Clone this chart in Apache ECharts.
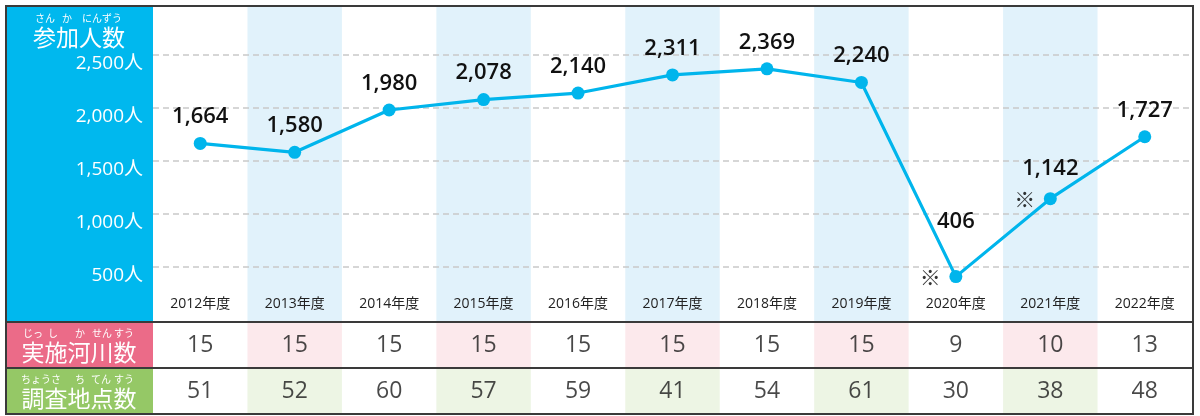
<!DOCTYPE html>
<html>
<head>
<meta charset="utf-8">
<script src="https://cdn.jsdelivr.net/npm/echarts@6/dist/echarts.min.js"></script>
<style>
  html, body { margin: 0; padding: 0; background: #fff; }
  #chart { width: 1200px; height: 416px; }
</style>
</head>
<body>
<div id="chart"></div>
<script>
// 年度別の参加人数・実施河川数・調査地点数
const years = ['2012年度', '2013年度', '2014年度', '2015年度', '2016年度', '2017年度',
               '2018年度', '2019年度', '2020年度', '2021年度', '2022年度'];
const participants = [1664, 1580, 1980, 2078, 2140, 2311, 2369, 2240, 406, 1142, 1727];
const rivers = [15, 15, 15, 15, 15, 15, 15, 15, 9, 10, 13];
const sites = [51, 52, 60, 57, 59, 41, 54, 61, 30, 38, 48];
const notes = ['', '', '', '', '', '', '', '', '※', '※', ''];

const FONT = '"Open Sans", "Noto Sans CJK JP", sans-serif';
const JP = '"Noto Sans CJK JP", sans-serif';
const C = {
  blue: '#00b8ee', line: '#00b5ec', band: '#e1f2fb',
  pink: '#eb6b88', pinkCell: '#fce9ec',
  green: '#95c866', greenCell: '#edf5e4',
  grid: '#c9c9c9', border: '#3a3a3a', text: '#1a1a1a'
};

// label spacing tweaks for crowded points
const labelDistance = { '2020年度': 37, '2021年度': 12 };

// alternating column shading
const altCols = years.map((_, i) => (i % 2 ? 1 : 0));

const chart = echarts.init(document.getElementById('chart'), null, { renderer: 'canvas' });

const hiddenCat = (gridIndex) => ({
  type: 'category', gridIndex, data: years,
  axisLine: { show: false }, axisTick: { show: false }, axisLabel: { show: false },
  splitLine: { show: false }
});
const hiddenVal = (gridIndex) => ({
  type: 'value', gridIndex, min: 0, max: 1,
  axisLine: { show: false }, axisTick: { show: false }, axisLabel: { show: false },
  splitLine: { show: false }
});

const tableText = (gridIndex, values) => ({
  type: 'scatter', xAxisIndex: gridIndex, yAxisIndex: gridIndex,
  symbolSize: 0, silent: true, z: 6,
  encode: { x: 0, y: 1 },
  data: values.map((v, i) => [years[i], 0.5, v]),
  label: {
    show: true, position: 'inside',
    formatter: p => String(p.value[2]),
    fontFamily: FONT, fontSize: 23, color: C.text
  }
});

const shade = (gridIndex, color) => ({
  type: 'bar', xAxisIndex: gridIndex, yAxisIndex: gridIndex,
  barWidth: '100%', silent: true, z: 1,
  itemStyle: { color },
  data: altCols
});

// header captions with furigana
function header(word, ruby, cy) {
  const items = [{
    type: 'text', x: 79, y: cy, z: 2,
    style: { text: word, fill: '#fff', font: '23px ' + JP, textAlign: 'center', textVerticalAlign: 'middle' }
  }];
  ruby.forEach(([t, x]) => items.push({
    type: 'text', x, y: cy - 19, z: 2,
    style: { text: t, fill: '#fff', font: '10px ' + JP, textAlign: 'center', textVerticalAlign: 'middle' }
  }));
  return items;
}

const option = {
  animation: false,
  grid: [
    { left: 153, right: 8, top: 7, bottom: 95 },      // column bands
    { left: 153, right: 8, top: 2, bottom: 96.4 },    // line chart
    { left: 153, right: 8, top: 323, height: 44 },    // 実施河川数
    { left: 153, right: 8, top: 369, height: 44 }     // 調査地点数
  ],
  xAxis: [
    hiddenCat(0),
    {
      type: 'category', gridIndex: 1, data: years, z: 3,
      axisLine: { show: false }, axisTick: { show: false },
      axisLabel: { inside: true, margin: 9, fontFamily: FONT, fontSize: 14, color: '#222' }
    },
    hiddenCat(2),
    hiddenCat(3)
  ],
  yAxis: [
    hiddenVal(0),
    {
      type: 'value', gridIndex: 1, min: 0, max: 3000, interval: 500, z: 5,
      axisLine: { show: false }, axisTick: { show: false },
      axisLabel: {
        showMinLabel: false, showMaxLabel: false, margin: 10,
        formatter: v => v.toLocaleString('en-US') + '人',
        fontFamily: FONT, fontSize: 19, color: '#fff',
        verticalAlign: 'top', padding: [-1, 0, 0, 0]
      },
      splitLine: {
        show: true, showMinLine: false, showMaxLine: false,
        lineStyle: { color: C.grid, type: [6, 4], width: 1.5 }
      }
    },
    hiddenVal(2),
    hiddenVal(3)
  ],
  graphic: [
    { type: 'rect', z: 0, shape: { x: 6, y: 6, width: 147, height: 316 }, style: { fill: C.blue } },
    { type: 'rect', z: 0, shape: { x: 6, y: 322, width: 147, height: 46 }, style: { fill: C.pink } },
    { type: 'rect', z: 0, shape: { x: 6, y: 368, width: 147, height: 46 }, style: { fill: C.green } },
    ...header('参加人数', [['さん', 45], ['か', 67], ['にんずう', 102]], 37),
    ...header('実施河川数', [['じっ', 33], ['し', 53], ['か', 80], ['せん', 102], ['すう', 124]], 352),
    ...header('調査地点数', [['ちょうさ', 41], ['ち', 80], ['てん', 101], ['すう', 124]], 398),
    { type: 'line', z: 20, shape: { x1: 6, y1: 322, x2: 1193, y2: 322 }, style: { stroke: C.border, lineWidth: 2 } },
    { type: 'line', z: 20, shape: { x1: 6, y1: 368, x2: 1193, y2: 368 }, style: { stroke: C.border, lineWidth: 2 } },
    { type: 'rect', z: 20, shape: { x: 6, y: 6, width: 1187, height: 408 }, style: { fill: 'none', stroke: C.border, lineWidth: 2 } }
  ],
  series: [
    {
      type: 'bar', xAxisIndex: 0, yAxisIndex: 0, barWidth: '100%', silent: true, z: 1,
      itemStyle: { color: C.band }, data: altCols
    },
    {
      type: 'line', xAxisIndex: 1, yAxisIndex: 1, z: 8,
      symbol: 'circle', symbolSize: 13,
      lineStyle: { color: C.line, width: 3.2 },
      itemStyle: { color: C.line },
      data: participants.map((v, i) =>
        labelDistance[years[i]] ? { value: v, label: { distance: labelDistance[years[i]] } } : v),
      label: {
        show: true, position: 'top', distance: 9,
        formatter: p => p.value.toLocaleString('en-US'),
        fontFamily: FONT, fontSize: 22, fontWeight: 600, color: '#111'
      }
    },
    {
      type: 'scatter', xAxisIndex: 1, yAxisIndex: 1, symbolSize: 0, silent: true, z: 9,
      data: participants.map((v, i) => (notes[i] ? { value: v, note: notes[i] } : '-')),
      label: {
        show: true, position: 'left', distance: 15,
        formatter: p => p.data.note,
        fontFamily: JP, fontSize: 21, color: '#000'
      }
    },
    shade(2, C.pinkCell),
    tableText(2, rivers),
    shade(3, C.greenCell),
    tableText(3, sites)
  ]
};

chart.setOption(option);
</script>
</body>
</html>
